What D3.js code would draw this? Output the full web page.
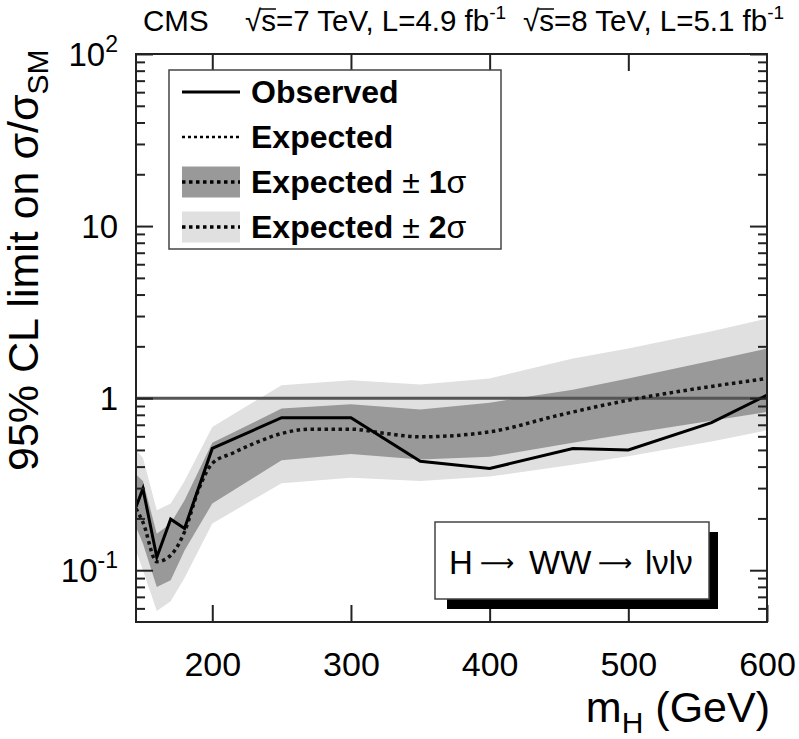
<!DOCTYPE html>
<html>
<head>
<meta charset="utf-8">
<script src="https://cdn.jsdelivr.net/npm/d3@7"></script>
<style>
  body { margin: 0; background: #fff; }
  svg { display: block; font-family: "Liberation Sans", Arial, Helvetica, sans-serif; }
</style>
</head>
<body>
<div id="chart"></div>
<script>
// mass points (GeV) where the limit was computed
const massPoints = [145, 150, 160, 170, 180, 200, 250, 300, 350, 400, 460, 500, 560, 600];
const observed   = [0.233, 0.298, 0.119, 0.198, 0.175, 0.51, 0.77, 0.77, 0.43, 0.39, 0.51, 0.50, 0.72, 1.04];
const band1Lo    = [0.178, 0.143, 0.08, 0.0875, 0.13, 0.244, 0.436, 0.473, 0.44, 0.456, 0.55, 0.62, 0.74, 0.83];
const band1Hi    = [0.36, 0.33, 0.163, 0.187, 0.255, 0.55, 0.87, 0.92, 0.86, 0.94, 1.12, 1.3, 1.65, 1.94];
const band2Lo    = [0.13, 0.1, 0.058, 0.066, 0.09, 0.187, 0.32, 0.345, 0.33, 0.35, 0.41, 0.46, 0.56, 0.65];
const band2Hi    = [0.5, 0.45, 0.223, 0.244, 0.33, 0.68, 1.19, 1.27, 1.2, 1.3, 1.7, 1.94, 2.45, 2.9];

// expected median (smooth curve)
const expMass  = [145, 150, 160, 170, 180, 190, 200, 215, 230, 250, 270, 300, 325, 350, 400, 450, 500, 550, 600];
const expected = [0.228, 0.19, 0.112, 0.122, 0.167, 0.292, 0.417, 0.48, 0.545, 0.623, 0.66, 0.66, 0.623, 0.596, 0.637, 0.796, 0.973, 1.138, 1.30];

const xTicks = [200, 300, 400, 500, 600];
const yMajor = [0.1, 1, 10, 100];
const yLabels = [['10', '-1'], ['1', ''], ['10', ''], ['10', '2']];

const W = 799, H = 739;
const frame = { left: 136, right: 767, top: 54, bottom: 622 };
const colors = { band1: '#999999', band2: '#e0e0e0', unity: '#555555' };

const svg = d3.select('#chart').append('svg')
  .attr('width', W)
  .attr('height', H);

const x = d3.scaleLinear().domain([145, 600]).range([frame.left, frame.right]);
const y = d3.scaleLog().domain([0.05, 100]).range([frame.bottom, frame.top]);

const pts = massPoints.map((m, i) => ({ m: m, obs: observed[i], lo1: band1Lo[i], hi1: band1Hi[i], lo2: band2Lo[i], hi2: band2Hi[i] }));
const expPts = expMass.map((m, i) => ({ m: m, v: expected[i] }));

svg.append('clipPath').attr('id', 'clip')
  .append('rect').attr('x', frame.left).attr('y', frame.top)
  .attr('width', frame.right - frame.left).attr('height', frame.bottom - frame.top);

const plot = svg.append('g').attr('clip-path', 'url(#clip)');

plot.append('path')
  .datum(pts)
  .attr('fill', colors.band2)
  .attr('d', d3.area().x(d => x(d.m)).y0(d => y(d.lo2)).y1(d => y(d.hi2)));

plot.append('path')
  .datum(pts)
  .attr('fill', colors.band1)
  .attr('d', d3.area().x(d => x(d.m)).y0(d => y(d.lo1)).y1(d => y(d.hi1)));

// sigma/sigma_SM = 1
plot.append('line')
  .attr('x1', frame.left).attr('x2', frame.right)
  .attr('y1', y(1)).attr('y2', y(1))
  .attr('stroke', colors.unity)
  .attr('stroke-width', 3);

plot.append('path')
  .datum(expPts)
  .attr('fill', 'none')
  .attr('stroke', '#111')
  .attr('stroke-width', 3.5)
  .attr('stroke-dasharray', '3.5,3.5')
  .attr('d', d3.line().x(d => x(d.m)).y(d => y(d.v)).curve(d3.curveMonotoneX));

plot.append('path')
  .datum(pts)
  .attr('fill', 'none')
  .attr('stroke', '#000')
  .attr('stroke-width', 3)
  .attr('d', d3.line().x(d => x(d.m)).y(d => y(d.obs)));

// axes (ticks point inward on all four sides)
const minor = y.ticks().filter(v => yMajor.indexOf(+v.toPrecision(3)) < 0 && v > 0.0501);

function styleAxis (g) {
  g.select('.domain').remove();
  g.selectAll('line').attr('stroke', '#222').attr('stroke-width', 2);
}

svg.append('g')
  .attr('transform', 'translate(0,' + frame.bottom + ')')
  .call(d3.axisBottom(x).tickValues(xTicks).tickSizeInner(-17).tickSizeOuter(0).tickPadding(30).tickFormat(d3.format('d')))
  .call(styleAxis)
  .selectAll('text')
  .attr('font-size', 34)
  .attr('fill', '#000');

svg.append('g')
  .attr('transform', 'translate(0,' + frame.top + ')')
  .call(d3.axisTop(x).tickValues(xTicks.slice(0, 4)).tickSizeInner(-17).tickSizeOuter(0).tickFormat(''))
  .call(styleAxis);

[[frame.left, d3.axisLeft], [frame.right, d3.axisRight]].forEach(([pos, ax]) => {
  svg.append('g')
    .attr('transform', 'translate(' + pos + ',0)')
    .call(ax(y).tickValues(yMajor).tickSizeInner(-17).tickSizeOuter(0).tickFormat(''))
    .call(styleAxis);
  svg.append('g')
    .attr('transform', 'translate(' + pos + ',0)')
    .call(ax(y).tickValues(minor).tickSizeInner(-9).tickSizeOuter(0).tickFormat(''))
    .call(styleAxis);
});
svg.selectAll('.tick text').attr('font-family', null);

// y tick labels with exponents
const yl = svg.append('g').attr('font-size', 33).attr('text-anchor', 'end');
yMajor.forEach((v, i) => {
  const t = yl.append('text')
    .attr('x', 118)
    .attr('y', y(v) + 12);
  t.append('tspan').text(yLabels[i][0]);
  if (yLabels[i][1]) {
    t.append('tspan').attr('dy', -14).attr('font-size', 23).text(yLabels[i][1]);
  }
});

svg.append('rect')
  .attr('x', frame.left).attr('y', frame.top)
  .attr('width', frame.right - frame.left).attr('height', frame.bottom - frame.top)
  .attr('fill', 'none')
  .attr('stroke', '#222')
  .attr('stroke-width', 2);

// axis titles
const xt = svg.append('text')
  .attr('x', 770).attr('y', 722)
  .attr('text-anchor', 'end')
  .attr('font-size', 43);
xt.append('tspan').text('m');
xt.append('tspan').attr('dy', 11).attr('font-size', 30).text('H');
xt.append('tspan').attr('dy', -11).text(' (GeV)');

const yt = svg.append('text')
  .attr('transform', 'translate(38,471) rotate(-90)')
  .attr('font-size', 43);
yt.append('tspan').text('95% CL limit on σ/σ');
yt.append('tspan').attr('dy', 10).attr('font-size', 30).text('SM');

// header
const header = svg.append('g').attr('font-size', 29.5);
header.append('text').attr('x', 143).attr('y', 31).text('CMS');
[[245, '7 TeV, L=4.9 fb'], [523, '8 TeV, L=5.1 fb']].forEach(([hx, txt]) => {
  const t = header.append('text').attr('x', hx).attr('y', 31);
  t.append('tspan').text('√');
  t.append('tspan').text('s=' + txt);
  t.append('tspan').attr('dy', -12).attr('font-size', 19).text('-1');
  const sq = t.node().getSubStringLength(0, 1);
  const sw = t.node().getSubStringLength(1, 1);
  header.append('line')
    .attr('x1', hx + sq - 1).attr('x2', hx + sq + sw)
    .attr('y1', 9).attr('y2', 9)
    .attr('stroke', '#000').attr('stroke-width', 1.5);
});

// legend
const legend = svg.append('g');
legend.append('rect')
  .attr('x', 169).attr('y', 70)
  .attr('width', 332).attr('height', 179)
  .attr('fill', '#fff')
  .attr('stroke', '#444')
  .attr('stroke-width', 1.5);

const legendRows = [
  { label: 'Observed', kind: 'obs' },
  { label: 'Expected', kind: 'exp' },
  { label: 'Expected', kind: 'band1', sig: '1' },
  { label: 'Expected', kind: 'band2', sig: '2' }
];
legendRows.forEach((r, i) => {
  const cy = 92 + i * 45;
  if (r.kind === 'band1' || r.kind === 'band2') {
    legend.append('rect')
      .attr('x', 182).attr('y', cy - 15.5)
      .attr('width', 58).attr('height', 31)
      .attr('fill', r.kind === 'band1' ? colors.band1 : colors.band2);
  }
  legend.append('line')
    .attr('x1', 182).attr('x2', 240)
    .attr('y1', cy).attr('y2', cy)
    .attr('stroke', '#000')
    .attr('stroke-width', r.kind === 'obs' ? 3 : (r.kind === 'exp' ? 2.5 : 3.5))
    .attr('stroke-dasharray', r.kind === 'obs' ? null : (r.kind === 'exp' ? '3,3' : '3.5,3.5'));
  const t = legend.append('text')
    .attr('x', 251).attr('y', cy + 11)
    .attr('font-size', 32);
  t.append('tspan').attr('font-weight', 'bold').text(r.label);
  if (r.sig) {
    t.append('tspan').text(' ± ');
    t.append('tspan').attr('font-weight', 'bold').text(r.sig);
    t.append('tspan').text('σ');
  }
});

// process label with shadow
const box = svg.append('g');
box.append('rect').attr('x', 447).attr('y', 532).attr('width', 271).attr('height', 77).attr('fill', '#000');
box.append('rect')
  .attr('x', 435).attr('y', 522)
  .attr('width', 274).attr('height', 77)
  .attr('fill', '#fff')
  .attr('stroke', '#444')
  .attr('stroke-width', 1.5);
const proc = box.append('text')
  .attr('y', 574)
  .attr('font-size', 33);
proc.append('tspan').attr('x', 449).text('H');
proc.append('tspan').attr('x', 480).attr('font-family', 'DejaVu Sans').attr('font-size', 24).attr('dy', -3).text('⟶');
proc.append('tspan').attr('x', 529).attr('dy', 3).text('WW');
proc.append('tspan').attr('x', 598).attr('font-family', 'DejaVu Sans').attr('font-size', 24).attr('dy', -3).text('⟶');
proc.append('tspan').attr('x', 645).attr('dy', 3).text('lνlν');
</script>
</body>
</html>
